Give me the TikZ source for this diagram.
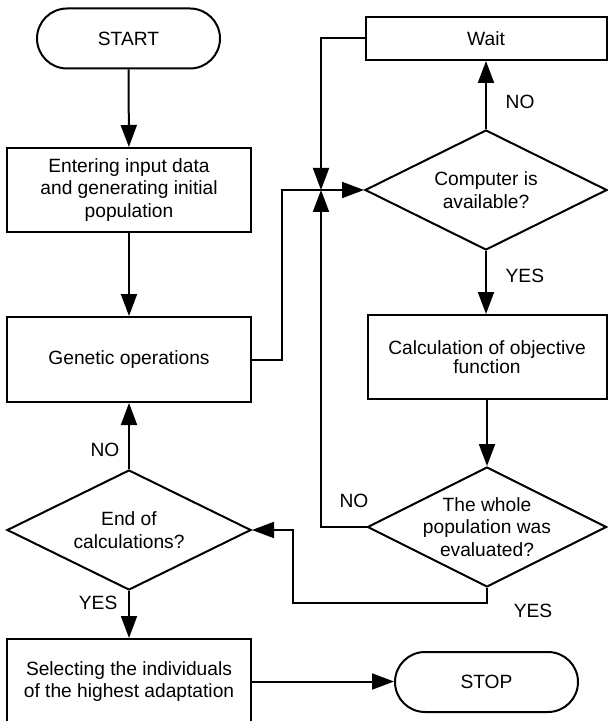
\documentclass[tikz,border=0pt]{standalone}
\usepackage{fontspec}
\setmainfont{Liberation Sans}
\usetikzlibrary{shapes.geometric, arrows.meta}

\begin{document}
\begin{tikzpicture}[x=0.5pt, y=-0.5pt, line width=1pt,
    font=\fontsize{9.6pt}{11.25pt}\selectfont,
    box/.style={draw, rectangle, align=center, inner sep=0pt},
    term/.style={draw, rectangle, rounded corners=15pt, minimum width=91.5pt,
        minimum height=30pt, inner sep=0pt},
    test/.style={draw, diamond, inner sep=0pt, minimum width=121pt,
        minimum height=60pt},
    arr/.style={-{Triangle[length=11pt, width=8pt]}}]
    \useasboundingbox (0, 0) rectangle (608, 721);
    \clip (0, 0) rectangle (608, 721);

    % left column
    \node[term] (start) at (128.5, 38.5) {START};
    \node[box, minimum width=122pt, minimum height=42pt] (input) at (129, 190)
    {Entering input data\\and generating initial\\population};
    \node[box, minimum width=122pt, minimum height=42.5pt] (genetic) at (129, 359.5)
    {Genetic operations};
    \node[test, minimum width=122pt, label={[align=center]center:End of\\calculations?}]
    (endcalc) at (129, 530) {};
    \node[box, minimum width=122pt, minimum height=42.5pt] (select) at (129, 681.5)
    {Selecting the individuals\\of the highest adaptation};

    % right column
    \node[box, minimum width=120.5pt, minimum height=21.5pt] (wait) at (486, 38.5) {Wait};
    \node[test, label={[align=center]center:Computer is\\available?}]
    (avail) at (486, 190) {};
    \node[box, minimum width=119.5pt, minimum height=42pt,
    font=\fontsize{9.6pt}{9.2pt}\selectfont] (objective) at (487, 357)
    {Calculation of objective\\function};
    \node[test, minimum width=119.5pt,
    label={[align=center]center:The whole\\population was\\evaluated?}]
    (whole) at (487, 527) {};
    \node[term] (stop) at (486.5, 682) {STOP};

    \coordinate (J) at (321, 190);
    \coordinate (B) at (293, 603);

    \draw[arr] (start) -- (input);
    \draw[arr] (input) -- (genetic);
    \draw[arr] (genetic.east) -- ++(30, 0) |- (avail.west);
    \draw[arr] (wait.west) -| (J);
    \draw[arr] (avail.north) -- (wait.south) node[pos=0.4, right=6pt] (no1) {NO};
    \draw[arr] (avail.south) -- (avail.south |- objective.north)
    node[pos=0.4, right=6pt] (yes1) {YES};
    \draw[arr] (objective.south) -- (objective.south |- whole.north);
    \draw[arr] (whole.west) -| (J);
    \node (no2) at (354, 501) {NO};
    \draw[arr] (whole.south) |- (B) |- (endcalc.east);
    \node (yes2) at (533, 611) {YES};
    \draw[arr] (endcalc.north) -- (genetic.south);
    \node (no3) at (105, 450) {NO};
    \draw[arr] (endcalc.south) -- (select.north) node[pos=0.25, left=2pt] (yes3) {YES};
    \draw[arr] (select.east) -- (select.east -| stop.west);
\end{tikzpicture}
\end{document}
